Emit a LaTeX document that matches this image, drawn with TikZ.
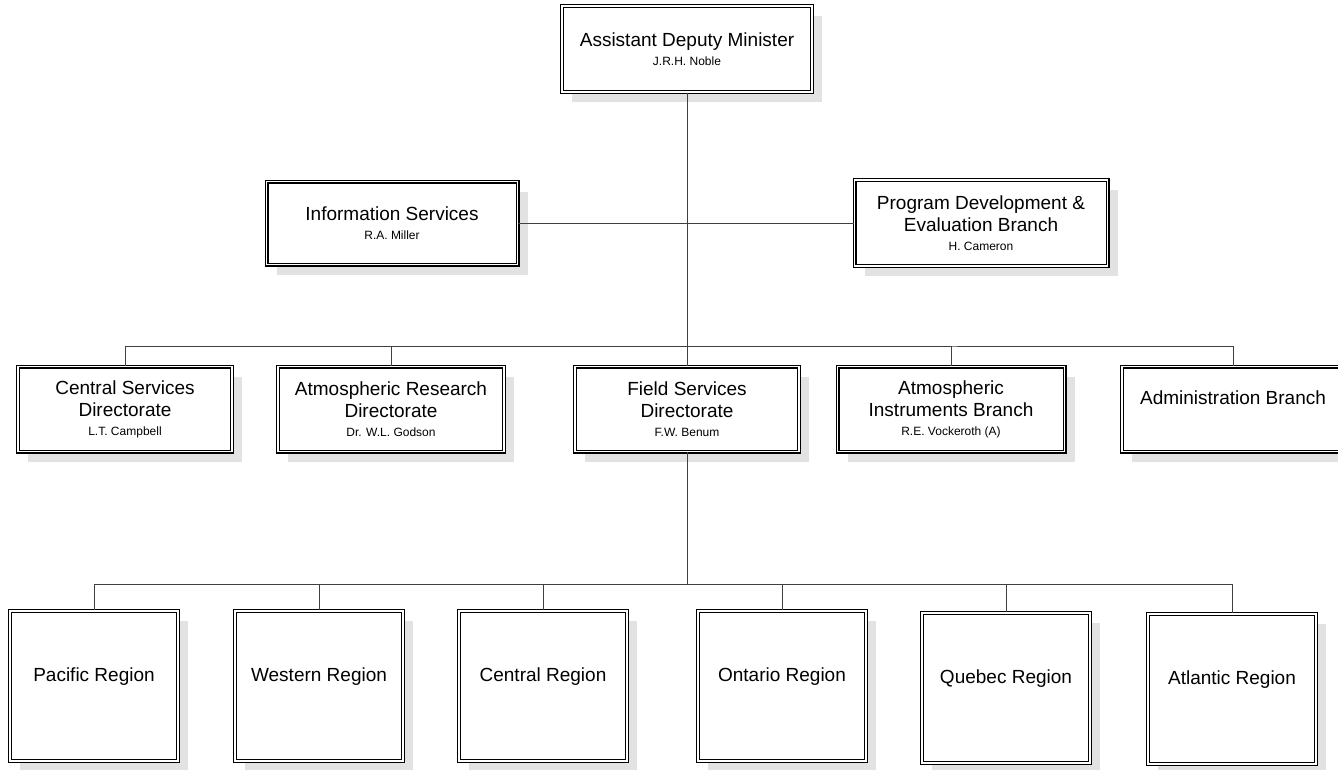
\documentclass[tikz,border=0pt]{standalone}
\usepackage{fontspec}
\setmainfont{Liberation Sans}
\usetikzlibrary{positioning,shadows,calc}

\newcommand{\unitname}[1]{{\fontsize{12}{14}\selectfont #1}}

\begin{document}
\begin{tikzpicture}[
    x=1pt,
    y=-1pt,
    font=\fontsize{19}{22}\selectfont,
    unit/.style={
        draw,
        line width=1.1pt,
        double,
        double distance=1.8pt,
        fill=white,
        align=center,
        inner sep=2pt,
        drop shadow={shadow xshift=10pt, shadow yshift=-10pt, fill=black!22, opacity=0.5}
    },
    topbox/.style={unit, minimum height=86pt},
    dirbox/.style={unit, minimum height=85pt},
    regionbox/.style={unit, minimum width=168pt, minimum height=150pt},
    conn/.style={line width=0.9pt, draw=black!75}
]

\fill[white] (0,0) rectangle (1338,769);
\useasboundingbox (0,0) rectangle (1338,769);

% ============================================================
% TOP: minister and staff units
% ============================================================
\node[topbox, minimum width=250pt] (adm) at (687,49)
    {Assistant Deputy Minister\\[-3pt]\unitname{J.R.H. Noble}};
\node[topbox, minimum width=251pt, minimum height=83pt] (info) at (392,223)
    {Information Services\\[-3pt]\unitname{R.A. Miller}};
\node[topbox, minimum width=253pt] (prog) at (981,223)
    {Program Development \&\\Evaluation Branch\\[-3pt]\unitname{H. Cameron}};

% ============================================================
% DIRECTORATES
% ============================================================
\node[dirbox, minimum width=214pt] (cs) at (125,409)
    {Central Services\\Directorate\\[-3pt]\unitname{L.T. Campbell}};
\node[dirbox, minimum width=226pt] (ar) at (391,409)
    {Atmospheric Research\\Directorate\\[-3pt]\unitname{Dr. W.L. Godson}};
\node[dirbox, minimum width=224pt] (fs) at (687,409)
    {Field Services\\Directorate\\[-3pt]\unitname{F.W. Benum}};
\node[dirbox, minimum width=227pt] (ai) at (951,409)
    {Atmospheric\\Instruments Branch\\[-3pt]\unitname{R.E. Vockeroth (A)}};
\node[dirbox, minimum width=222pt] (ab) at (1233,409)
    {Administration Branch\\\mbox{}};

% ============================================================
% REGIONS
% ============================================================
\node[regionbox] (pac) at (94,686) {Pacific Region\\\mbox{}};
\node[regionbox] (wes) at (319,686) {Western Region\\\mbox{}};
\node[regionbox] (cen) at (543,686) {Central Region\\\mbox{}};
\node[regionbox] (ont) at (782,686) {Ontario Region\\\mbox{}};
\node[regionbox] (que) at (1006,688) {Quebec Region\\\mbox{}};
\node[regionbox] (atl) at (1232,689) {Atlantic Region\\\mbox{}};

% ============================================================
% CONNECTORS
% ============================================================
\coordinate (bus1) at (687,346);
\coordinate (bus2) at (687,584);

\draw[conn] (adm.south) -- (fs.north);
\draw[conn] (info.east) -- (prog.west);

\draw[conn] (cs.north) |- (bus1) -| (ab.north);
\draw[conn] (ar.north) |- (bus1);
\draw[conn] (ai.north) |- (bus1);

\draw[conn] (fs.south) -- (bus2);
\draw[conn] (pac.north) |- (bus2) -| (atl.north);
\draw[conn] (wes.north) |- (bus2);
\draw[conn] (cen.north) |- (bus2);
\draw[conn] (ont.north) |- (bus2);
\draw[conn] (que.north) |- (bus2);

\end{tikzpicture}
\end{document}
